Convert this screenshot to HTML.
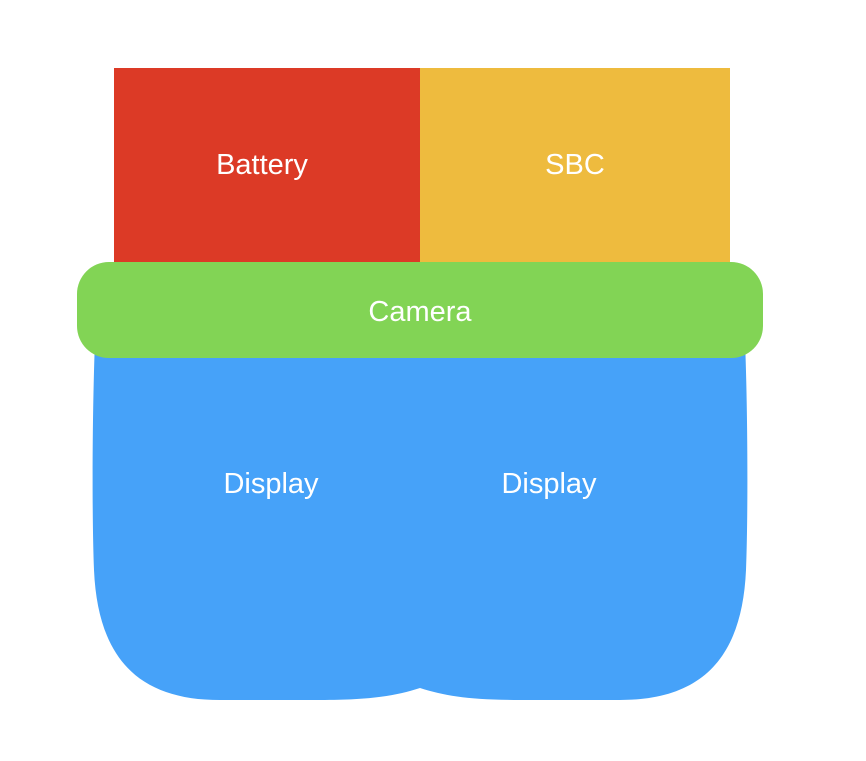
<!DOCTYPE html>
<html><head><style>
body{margin:0;background:#fff;width:866px;height:756px;overflow:hidden;font-family:"Liberation Sans",Arial,sans-serif}
</style></head><body>
<svg width="866" height="756" xmlns="http://www.w3.org/2000/svg" font-family="Liberation Sans, Arial, sans-serif">
<rect x="114" y="68" width="306" height="196" fill="#dc3a26"/>
<rect x="420" y="68" width="310" height="196" fill="#eebb3e"/>
<path d="M95,340 L745,340 C748,420 748,520 746,570 C742,660 700,700 620,700 L520,700 C470,700 445,696 420,688 C395,696 370,700 320,700 L220,700 C140,700 98,660 94,570 C92,520 92,420 95,340 Z" fill="#46a2f9"/>
<rect x="77" y="262" width="686" height="96" rx="32" ry="32" fill="#82d455"/>
<g fill="#fff" font-size="29" text-anchor="middle">
<text x="262" y="174">Battery</text>
<text x="575" y="174">SBC</text>
<text x="420" y="321">Camera</text>
<text x="271" y="493">Display</text>
<text x="549" y="493">Display</text>
</g>
</svg>
</body></html>
